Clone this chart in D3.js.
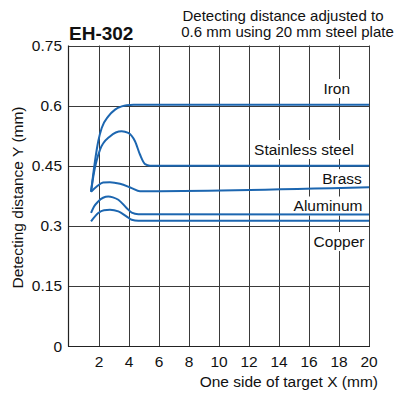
<!DOCTYPE html>
<html><head><meta charset="utf-8">
<script src="https://cdn.jsdelivr.net/npm/d3@7"></script>
<style>
html,body{margin:0;padding:0;background:#fff;}
svg{display:block;font-family:"Liberation Sans",Arial,Helvetica,sans-serif;}
</style></head>
<body>
<svg id="c" width="397" height="394"></svg>
<script>
const xTicks = [2,4,6,8,10,12,14,16,18,20];
const yTicks = [0,0.15,0.3,0.45,0.6,0.75];
const yTickLabels = ["0","0.15","0.3","0.45","0.6","0.75"];

const ironX = [1.47,1.73,1.95,2.18,2.62,3.07,3.51,3.85,4.3,20];
const ironY = [0.385,0.461,0.511,0.544,0.573,0.59,0.598,0.601,0.602,0.602];
const stainlessX = [1.47,1.62,2.07,2.73,3.51,3.95,4.4,4.73,5.07,5.4,20];
const stainlessY = [0.385,0.423,0.49,0.523,0.536,0.532,0.511,0.478,0.454,0.45,0.45];
const brassX = [1.47,1.85,2.27,2.73,3.4,4.18,4.73,20];
const brassY = [0.385,0.398,0.408,0.409,0.405,0.394,0.386,0.396];
const aluminumX = [1.47,1.67,1.95,2.27,2.62,2.93,3.29,3.85,4.18,4.62,20];
const aluminumY = [0.332,0.348,0.361,0.37,0.373,0.371,0.365,0.344,0.333,0.329,0.328];
const copperX = [1.47,1.95,2.33,2.73,3.29,3.85,4.18,4.62,20];
const copperY = [0.311,0.332,0.339,0.34,0.336,0.323,0.315,0.3125,0.3125];

const seriesNames = ["Iron","Stainless steel","Brass","Aluminum","Copper"];
const seriesX = [ironX,stainlessX,brassX,aluminumX,copperX];
const seriesY = [ironY,stainlessY,brassY,aluminumY,copperY];
// label anchor positions in data units (centre x, baseline y)
const labelX = [17.85,15.67,18.2,17.27,18.0];
const labelY = [0.629,0.4767,0.404,0.3357,0.247];

const title1 = "Detecting distance adjusted to";
const title2 = "0.6 mm using 20 mm steel plate";
const model = "EH-302";
const xTitle = "One side of target X (mm)";
const yTitle = "Detecting distance Y (mm)";

const svg = d3.select("#c");
const x = d3.scaleLinear().domain([0,20]).range([69,369]);
const y = d3.scaleLinear().domain([0,0.75]).range([346,45.5]);
const gridColor = "#3a3a3a";

// vertical grid
svg.append("g").selectAll("line").data(xTicks).join("line")
  .attr("x1",d=>Math.round(x(d))+0.5).attr("x2",d=>Math.round(x(d))+0.5)
  .attr("y1",y(0.75)).attr("y2",y(0))
  .attr("stroke",gridColor).attr("stroke-width",1);
// horizontal grid
svg.append("g").selectAll("line").data(yTicks.slice(1)).join("line")
  .attr("x1",x(0)).attr("x2",x(20))
  .attr("y1",d=>Math.round(y(d))+0.5).attr("y2",d=>Math.round(y(d))+0.5)
  .attr("stroke",gridColor).attr("stroke-width",1);
// axes lines
svg.append("line").attr("x1",x(0)-0.5).attr("x2",x(0)-0.5).attr("y1",y(0.75)).attr("y2",y(0)+0.5)
  .attr("stroke","#222").attr("stroke-width",1.2);
svg.append("line").attr("x1",x(0)-1).attr("x2",x(20)+1).attr("y1",Math.round(y(0))+0.5).attr("y2",Math.round(y(0))+0.5)
  .attr("stroke","#222").attr("stroke-width",1.2);

// labels with white backgrounds
const lg = svg.append("g");
seriesNames.forEach((n,i)=>{
  const t = lg.append("text").attr("x",x(labelX[i])).attr("y",y(labelY[i]))
    .attr("text-anchor","middle").attr("font-size",15.5).attr("fill","#111").text(n);
  const bb = t.node().getBBox();
  lg.insert("rect","text").attr("x",bb.x-3).attr("y",bb.y-1).attr("width",bb.width+6).attr("height",bb.height+2).attr("fill","#fff");
});

// curves
const line = d3.line().x(d=>x(d[0])).y(d=>y(d[1])).curve(d3.curveMonotoneX);
svg.append("g").selectAll("path").data(seriesX.map((xs,i)=>xs.map((v,j)=>[v,seriesY[i][j]]))).join("path")
  .attr("d",line).attr("fill","none").attr("stroke","#1c66b0").attr("stroke-width",2);

// tick labels
svg.append("g").selectAll("text").data(xTicks).join("text")
  .attr("x",d=>x(d)).attr("y",367).attr("text-anchor","middle").attr("font-size",15.5).attr("fill","#111").text(d=>d);
svg.append("g").selectAll("text").data(yTicks).join("text")
  .attr("x",62).attr("y",d=>y(d)+5.5).attr("text-anchor","end").attr("font-size",15.5).attr("fill","#111").text((d,i)=>yTickLabels[i]);

// titles
svg.append("text").attr("x",378).attr("y",387).attr("text-anchor","end").attr("font-size",15.5).attr("fill","#111").text(xTitle);
svg.append("text").attr("transform","translate(22.5,197.5) rotate(-90)").attr("text-anchor","middle").attr("font-size",15.5).attr("fill","#111").text(yTitle);
svg.append("text").attr("x",69).attr("y",40).attr("font-size",19).attr("font-weight","bold").attr("fill","#111").text(model);
svg.append("text").attr("x",283).attr("y",20.5).attr("text-anchor","middle").attr("font-size",15).attr("fill","#111").text(title1);
svg.append("text").attr("x",287.5).attr("y",36.5).attr("text-anchor","middle").attr("font-size",15).attr("fill","#111").text(title2);
</script>
</body></html>
